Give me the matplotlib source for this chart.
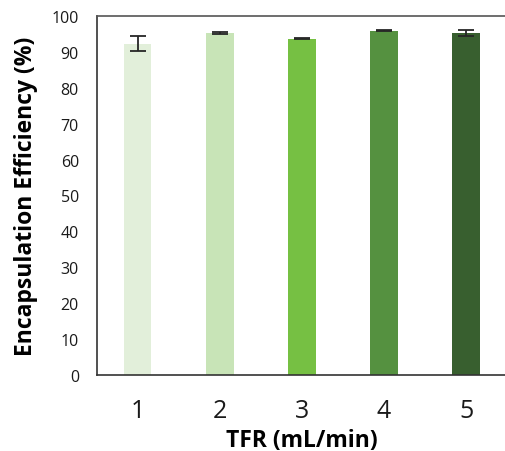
import numpy as np
from matplotlib import pyplot as plt

plt.rcParams['font.family'] = ['Open Sans', 'DejaVu Sans']

tfr_labels = ['1', '2', '3', '4', '5']
efficiency = [92.3, 95.3, 93.7, 95.9, 95.3]
efficiency_err = [2.15, 0.15, 0.15, 0.15, 0.95]
bar_colors = ['#E2EFDA', '#C8E4B7', '#76C043', '#559140', '#385F2F']

fig = plt.figure(figsize=(5.05, 4.52), dpi=100)
ax = fig.add_axes([0.192, 0.169, 0.812, 0.793])

x = np.arange(len(tfr_labels))
ax.bar(x, efficiency, width=0.33, color=bar_colors,
       yerr=efficiency_err, capsize=5.5,
       error_kw=dict(ecolor='#262626', elinewidth=1.3, capthick=1.3))

ax.set_xlim(-0.5, 4.5)
ax.set_ylim(0, 100)
ax.set_yticks(range(0, 101, 10))
ax.set_xticks(x)
ax.set_xticklabels(tfr_labels)
ax.tick_params(axis='x', length=0, labelsize=18, pad=17, colors='#1a1a1a')
ax.tick_params(axis='y', length=0, labelsize=11.5, pad=13, colors='#1a1a1a')

for s in ax.spines.values():
    s.set_color('#333333')
    s.set_linewidth(1.2)
ax.spines['top'].set_color('#555555')

ax.set_xlabel('TFR (mL/min)', fontsize=16.5, fontweight='bold', labelpad=3.5)
ax.set_ylabel('Encapsulation Efficiency (%)', fontsize=16.5, fontweight='bold', labelpad=10)

plt.savefig('out.png', dpi=100)
